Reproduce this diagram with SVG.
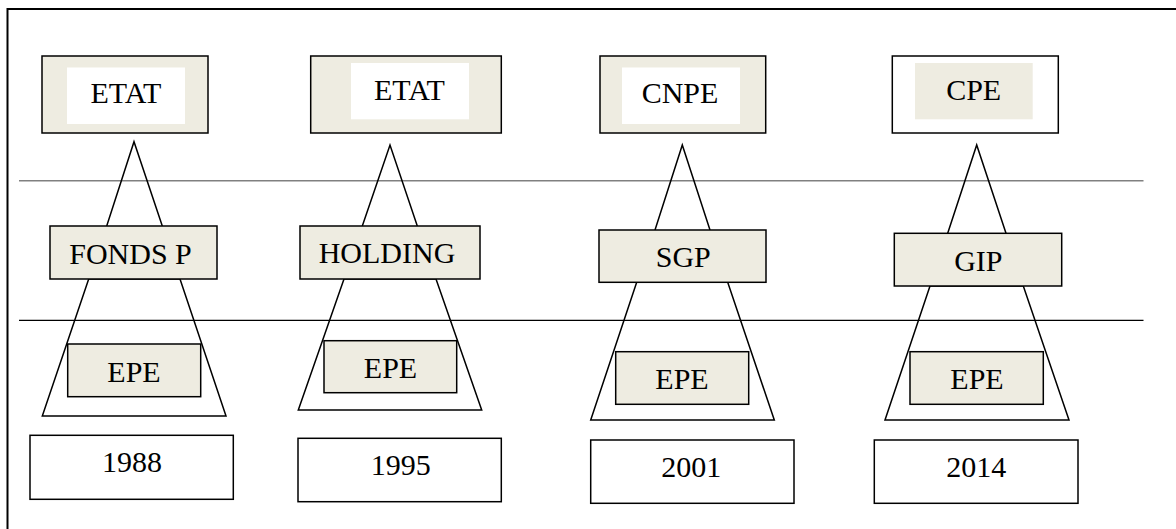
<svg xmlns="http://www.w3.org/2000/svg" width="1176" height="529" viewBox="0 0 1176 529">
  <style>
    .frame { fill: none; stroke: #000; stroke-width: 2; }
    .box { stroke: #000; stroke-width: 1.5; }
    .beige { fill: #EEECE1; }
    .white { fill: #FFFFFF; }
    .wedge { fill: none; stroke: #000; stroke-width: 1.5; stroke-linejoin: miter; }
    .sep-gray { stroke: #808080; stroke-width: 1.5; }
    .sep-black { stroke: #000; stroke-width: 1.2; }
    text { font-family: "Liberation Serif", "Times New Roman", serif; font-size: 30px; fill: #000; text-anchor: middle; }
  </style>
  <rect width="1176" height="529" fill="#FFFFFF"/>

  <!-- open frame: top and left edges -->
  <path class="frame" d="M1176 9 H7.5 V529"/>

  <!-- level separators -->
  <g id="separators">
    <line class="sep-gray" x1="19" y1="180.7" x2="1143.5" y2="180.7"/>
    <line class="sep-black" x1="19" y1="320.3" x2="1143.5" y2="320.3"/>
  </g>

  <!-- connectors: apex triangles and trapezoids between levels -->
  <g id="connectors">
    <polyline class="wedge" points="106.7,226 134,141.7 162.3,226"/>
    <polygon class="wedge" points="88.7,279 180,279 226,416 42.3,416"/>
    <polyline class="wedge" points="362.3,226 390,145 417.3,226"/>
    <polygon class="wedge" points="344,279 436,279 481.7,410 298.3,410"/>
    <polyline class="wedge" points="655,230 682.3,145 710,230"/>
    <polygon class="wedge" points="636.7,282.3 727.7,282.3 774.3,420 590.7,420"/>
    <polyline class="wedge" points="947.7,233.3 976.7,145 1006,233.3"/>
    <polygon class="wedge" points="930,286 1023.3,286 1069,420 885,420"/>
  </g>

  <!-- 1988 -->
  <g id="etat-1988">
    <rect class="box beige" x="42" y="56" width="166" height="77"/>
    <rect class="white" x="67" y="67.5" width="118" height="56.5"/>
    <text x="126" y="103">ETAT</text>
  </g>
  <g id="fonds-p">
    <rect class="box beige" x="50" y="226" width="167" height="53"/>
    <text x="130.5" y="264">FONDS P</text>
  </g>
  <g id="epe-1988">
    <rect class="box beige" x="67.7" y="344" width="133" height="52.7"/>
    <text x="134" y="382">EPE</text>
  </g>
  <g id="year-1988">
    <rect class="box white" x="30" y="435.3" width="203.3" height="64"/>
    <text x="132" y="472">1988</text>
  </g>

  <!-- 1995 -->
  <g id="etat-1995">
    <rect class="box beige" x="310.7" y="56" width="190.6" height="77"/>
    <rect class="white" x="351" y="63" width="118" height="56.3"/>
    <text x="409.5" y="100">ETAT</text>
  </g>
  <g id="holding">
    <rect class="box beige" x="300" y="226" width="180" height="53"/>
    <text x="387" y="263.3">HOLDING</text>
  </g>
  <g id="epe-1995">
    <rect class="box beige" x="324" y="340.7" width="132.7" height="52"/>
    <text x="390.5" y="377.7">EPE</text>
  </g>
  <g id="year-1995">
    <rect class="box white" x="298" y="438.3" width="203.3" height="63.4"/>
    <text x="400.8" y="475">1995</text>
  </g>

  <!-- 2001 -->
  <g id="cnpe">
    <rect class="box beige" x="600" y="56" width="165.7" height="77"/>
    <rect class="white" x="622" y="67.5" width="118" height="56.5"/>
    <text x="680" y="102.7">CNPE</text>
  </g>
  <g id="sgp">
    <rect class="box beige" x="599" y="230" width="167" height="52.3"/>
    <text x="683.3" y="266.7">SGP</text>
  </g>
  <g id="epe-2001">
    <rect class="box beige" x="615.7" y="351.7" width="133" height="52.6"/>
    <text x="682" y="389">EPE</text>
  </g>
  <g id="year-2001">
    <rect class="box white" x="590.7" y="440" width="203.3" height="63.3"/>
    <text x="691.3" y="476.7">2001</text>
  </g>

  <!-- 2014 -->
  <g id="cpe">
    <rect class="box white" x="892.3" y="56" width="166" height="77"/>
    <rect class="beige" x="915" y="63" width="117.7" height="56.3"/>
    <text x="973.7" y="100">CPE</text>
  </g>
  <g id="gip">
    <rect class="box beige" x="894.3" y="233.3" width="167.4" height="52.7"/>
    <text x="978.3" y="270.7">GIP</text>
  </g>
  <g id="epe-2014">
    <rect class="box beige" x="910" y="351.7" width="133.3" height="52.6"/>
    <text x="977" y="389">EPE</text>
  </g>
  <g id="year-2014">
    <rect class="box white" x="874.3" y="440" width="203.7" height="63.3"/>
    <text x="976.2" y="476.7">2014</text>
  </g>
</svg>
